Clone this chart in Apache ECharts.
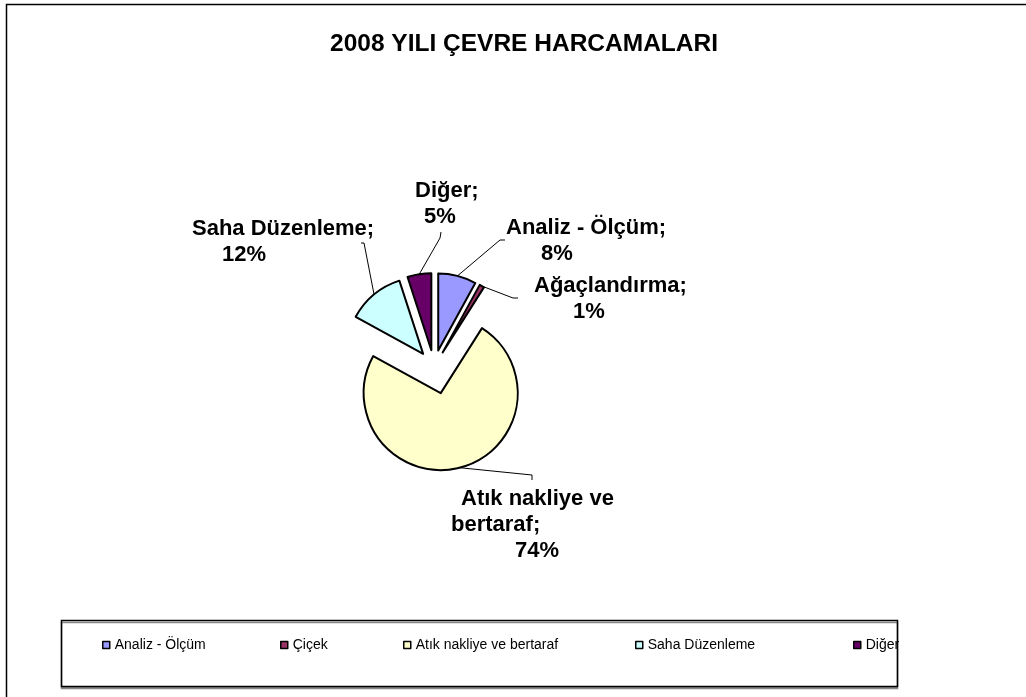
<!DOCTYPE html>
<html>
<head>
<meta charset="utf-8">
<script src="https://cdn.jsdelivr.net/npm/echarts@6/dist/echarts.min.js"></script>
<style>
  html, body { margin: 0; padding: 0; background: #fff; }
  #main { width: 1026px; height: 697px; }
</style>
</head>
<body>
<div id="main"></div>
<script>
// veriler
const categories = ['Analiz - Ölçüm', 'Çiçek', 'Atık nakliye ve bertaraf', 'Saha Düzenleme', 'Diğer'];
const labelNames = ['Analiz - Ölçüm', 'Ağaçlandırma', 'Atık nakliye ve bertaraf', 'Saha Düzenleme', 'Diğer'];
const shares = [8, 1, 74, 12, 5];
const colors = ['#9999FF', '#993366', '#FFFFCC', '#CCFFFF', '#660066'];

// etiket yerleşimi: sol-üst köşe, satır girintileri, çizgi kırılma/bitiş noktası (kutuya göre)
const labelBoxes = [
  { x: 506, y: 215, indent: [0, 35], elbow: [-6, 25], end: [-1, 25] },
  { x: 534, y: 273, indent: [0, 39], elbow: [-21, 25], end: [-16, 25] },
  { x: 451, y: 486, indent: [10, 0, 64], elbow: [81, -11], end: [81, -6] },
  { x: 192, y: 216, indent: [0, 30], elbow: [172, 27], end: [169, 27] },
  { x: 415, y: 178, indent: [0, 9], elbow: [25, 60], end: [26, 54] }
];
const wrapAfter = [0, 0, 15, 0, 0];
const legendLeft = [102, 280, 403, 635, 853];

const FONT = 'Liberation Sans, Arial, sans-serif';
const BIG = 2; // atık dilimi
const CENTER = [434, 367];
const R = 77;
const OFFSET_SMALL = 17;
const OFFSET_BIG = 27;

const rich = {};
labelBoxes.forEach(function (b) {
  b.indent.forEach(function (v) {
    rich['i' + v] = {
      fontSize: 22, fontWeight: 'bold', fontFamily: FONT, color: '#000',
      lineHeight: 26, padding: [0, 0, 0, v]
    };
  });
});

function labelText(p) {
  const i = p.dataIndex;
  const name = labelNames[i];
  let lines = [];
  if (wrapAfter[i]) {
    lines.push(name.slice(0, wrapAfter[i]));
    lines.push(name.slice(wrapAfter[i]).trim() + ';');
  } else {
    lines.push(name + ';');
  }
  lines.push(shares[i] + '%');
  const ind = labelBoxes[i].indent;
  return lines.map(function (t, k) { return '{i' + ind[k] + '|' + t + '}'; }).join('\n');
}

const hidden = { color: 'rgba(0,0,0,0)', borderWidth: 0 };

// dilimler (seçili = dışarı çekilmiş)
function sliceSeries(showBig, offset) {
  return {
    type: 'pie',
    silent: true,
    center: CENTER,
    radius: R,
    startAngle: 90,
    clockwise: true,
    selectedMode: 'multiple',
    selectedOffset: offset,
    animation: false,
    label: { show: false },
    labelLine: { show: false },
    select: { itemStyle: { borderColor: '#000', borderWidth: 2 } },
    data: categories.map(function (c, i) {
      const visible = (i === BIG) === showBig;
      return {
        name: c,
        value: shares[i],
        selected: visible,
        itemStyle: visible ? { color: colors[i], borderColor: '#000', borderWidth: 2 } : hidden
      };
    })
  };
}

// etiketler: görünmez pasta, yarıçap = dilim yarıçapı + çekme mesafesi
function labelSeries(showBig, offset) {
  return {
    type: 'pie',
    silent: true,
    center: CENTER,
    radius: R + offset,
    startAngle: 90,
    clockwise: true,
    selectedMode: false,
    avoidLabelOverlap: false,
    animation: false,
    label: {
      position: 'outside',
      formatter: labelText,
      rich: rich,
      fontSize: 22, fontWeight: 'bold', fontFamily: FONT, color: '#000'
    },
    labelLine: { show: true, length: 10, length2: 10, smooth: false, lineStyle: { color: '#000', width: 1 } },
    labelLayout: function (params) {
      const b = labelBoxes[params.dataIndex];
      const p0 = params.labelLinePoints ? params.labelLinePoints[0] : [b.x, b.y];
      return {
        x: b.x, y: b.y, align: 'left', verticalAlign: 'top',
        labelLinePoints: [p0, [b.x + b.elbow[0], b.y + b.elbow[1]], [b.x + b.end[0], b.y + b.end[1]]]
      };
    },
    itemStyle: hidden,
    data: categories.map(function (c, i) {
      const visible = (i === BIG) === showBig;
      return {
        name: c,
        value: shares[i],
        label: { show: visible },
        labelLine: { show: visible }
      };
    })
  };
}

const legends = categories.map(function (c, i) {
  return {
    left: legendLeft[i],
    top: 638,
    padding: 0,
    icon: 'rect',
    itemWidth: 7,
    itemHeight: 7,
    selectedMode: false,
    textStyle: { fontSize: 14, fontFamily: FONT, color: '#000' },
    data: [{ name: c, itemStyle: { color: colors[i], borderColor: '#000', borderWidth: 1.5 } }]
  };
});

const option = {
  backgroundColor: '#fff',
  animation: false,
  title: {
    text: '2008 YILI ÇEVRE HARCAMALARI',
    left: 519,
    textAlign: 'center',
    top: 27,
    textStyle: { fontSize: 24.5, fontWeight: 'bold', fontFamily: FONT, color: '#000' }
  },
  graphic: [
    { type: 'polyline', shape: { points: [[6.5, 700], [6.5, 4.5], [1030, 4.5]] }, style: { stroke: '#000', lineWidth: 1.5, fill: null } },
    { type: 'rect', shape: { x: 61.5, y: 620.5, width: 836, height: 66 },
      style: { fill: '#fff', stroke: '#000', lineWidth: 1.5, shadowColor: '#888', shadowOffsetY: 2, shadowOffsetX: 0, shadowBlur: 0 }, z: -1 }
  ],
  legend: legends,
  series: [
    sliceSeries(false, OFFSET_SMALL),
    sliceSeries(true, OFFSET_BIG),
    labelSeries(false, OFFSET_SMALL),
    labelSeries(true, OFFSET_BIG)
  ]
};

const myChart = echarts.init(document.getElementById('main'), null, { renderer: 'canvas' });
myChart.setOption(option);
</script>
</body>
</html>
